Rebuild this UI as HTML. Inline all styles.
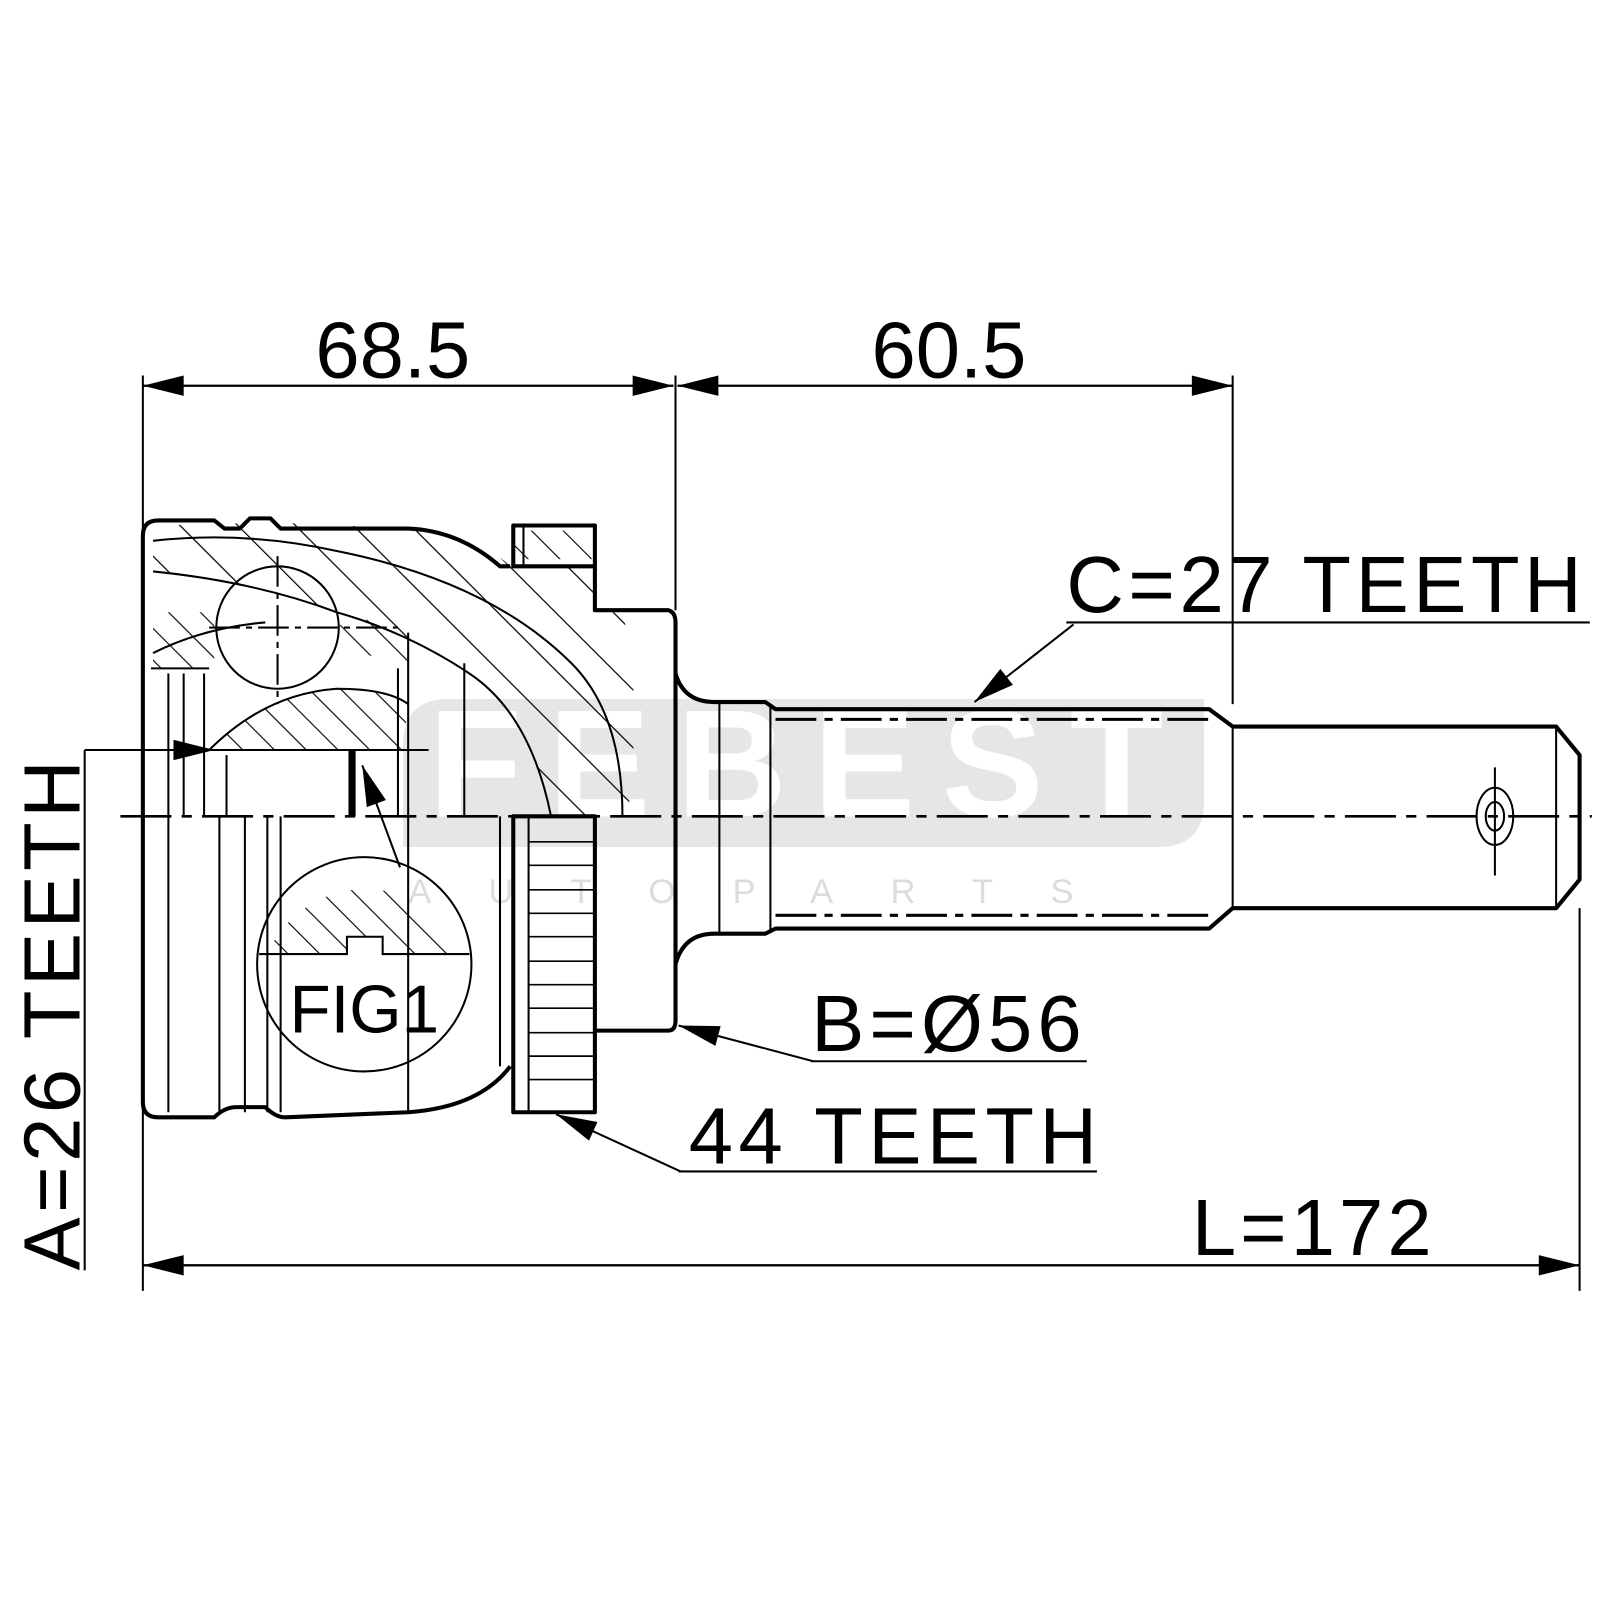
<!DOCTYPE html>
<html><head><meta charset="utf-8"><style>
html,body{margin:0;padding:0;background:#fff;}
svg{display:block;}
text{font-family:"Liberation Sans",sans-serif;fill:#000;}
</style></head><body>
<svg width="1600" height="1600" viewBox="0 0 1568 1568" xmlns="http://www.w3.org/2000/svg">
<defs>
<pattern id="h" patternUnits="userSpaceOnUse" width="22" height="22" patternTransform="rotate(-45)">
<line x1="0" y1="0" x2="0" y2="22" stroke="#000" stroke-width="2.2"/>
</pattern>
<pattern id="h2" patternUnits="userSpaceOnUse" width="40" height="40" patternTransform="rotate(-45)">
<line x1="0" y1="0" x2="0" y2="40" stroke="#000" stroke-width="2.4"/>
</pattern>
<marker id="ar" viewBox="0 0 20 10" refX="20" refY="5" markerWidth="60" markerHeight="20" markerUnits="userSpaceOnUse" orient="auto">
<path d="M0,0 L20,5 L0,10 Z" fill="#000"/>
</marker>
</defs>

<path d="M440,685 H1180 V785 Q1180,830 1135,830 H395 V730 Q395,685 440,685 Z" fill="#e6e6e6"/>
<text x="420" y="800" font-size="150" font-weight="bold" style="fill:#fff" textLength="720">FEBEST</text>
<text x="400" y="885" font-size="34" style="fill:#dcdcdc" letter-spacing="56">AUTOPARTS</text>

<g fill="none" stroke="#000" stroke-width="2">
<line x1="140" y1="368" x2="140" y2="1265"/>
<line x1="662" y1="368" x2="662" y2="598"/>
<line x1="1208" y1="368" x2="1208" y2="690"/>
<line x1="1548" y1="890" x2="1548" y2="1265"/>
<line x1="140" y1="378" x2="660" y2="378" marker-end="url(#ar)"/>
<line x1="660" y1="378" x2="140" y2="378" marker-end="url(#ar)"/>
<line x1="664" y1="378" x2="1208" y2="378" marker-end="url(#ar)"/>
<line x1="1208" y1="378" x2="664" y2="378" marker-end="url(#ar)"/>
<line x1="140" y1="1240" x2="1548" y2="1240" marker-end="url(#ar)"/>
<line x1="1548" y1="1240" x2="140" y2="1240" marker-end="url(#ar)"/>
<line x1="83" y1="735" x2="83" y2="1245"/>
<line x1="83" y1="735" x2="210" y2="735" marker-end="url(#ar)"/>
<line x1="200" y1="735" x2="420" y2="735"/>
<line x1="1045" y1="610" x2="1558" y2="610"/>
<line x1="1052" y1="612" x2="955" y2="688" marker-end="url(#ar)"/>
<line x1="795" y1="1040" x2="1065" y2="1040"/>
<line x1="797" y1="1040" x2="665" y2="1005" marker-end="url(#ar)"/>
<line x1="665" y1="1148" x2="1075" y2="1148"/>
<line x1="667" y1="1148" x2="545" y2="1092" marker-end="url(#ar)"/>
<line x1="392" y1="850" x2="355" y2="750" marker-end="url(#ar)"/>
</g>

<g stroke="none">
<path d="M150,515 L270,512 L400,518 Q470,525 500,555 L583,555 L583,600 L610,600 Q630,680 615,800 L540,800 Q520,700 460,660 Q400,620 330,600 Q250,570 150,560 Z" fill="url(#h2)"/>
<path d="M205,735 Q260,680 330,675 Q380,675 400,690 L395,735 Z" fill="url(#h)"/>
<path d="M335,600 L400,620 L400,650 Q360,640 330,640 Z" fill="url(#h)"/>
<path d="M150,600 L210,600 L210,655 L150,655 Z" fill="url(#h)"/>
<path d="M503,520 H580 V548 H503 Z" fill="url(#h)"/>
</g>

<g fill="none" stroke="#000" stroke-width="4" stroke-linejoin="round">
<path d="M583,555 L583,598 L655,598 Q662,600 662,610 L662,1000 Q662,1010 655,1010 L583,1010"/>
<path d="M500,555 L490,555 Q450,520 400,518 L275,518 L265,508 L245,508 L235,518 L220,518 L210,510 L155,510 Q140,510 140,525 L140,1080 Q140,1095 155,1095 L210,1095 Q220,1085 232,1085 L260,1085 Q270,1095 280,1095 L400,1090 Q470,1085 500,1045"/>
<rect x="503" y="515" width="80" height="40"/>
<rect x="503" y="800" width="80" height="290"/>
<path d="M662,660 Q670,688 700,688 L750,688 L760,695 L1185,695 L1208,712 L1525,712 L1548,740 L1548,862 L1525,890 L1208,890 L1185,910 L760,910 L750,915 L700,915 Q670,915 662,945"/>
</g>

<g fill="none" stroke="#000" stroke-width="2">
<line x1="705" y1="688" x2="705" y2="915"/>
<line x1="755" y1="690" x2="755" y2="913"/>
<line x1="1208" y1="712" x2="1208" y2="890"/>
<line x1="1525" y1="712" x2="1525" y2="890"/>
<line x1="760" y1="705" x2="1185" y2="705" stroke-dasharray="40,8,8,8" stroke-width="3"/>
<line x1="760" y1="897" x2="1185" y2="897" stroke-dasharray="40,8,8,8" stroke-width="3"/>
<ellipse cx="1465" cy="800" rx="18" ry="28"/>
<ellipse cx="1465" cy="800" rx="9" ry="14"/>
<line x1="1465" y1="752" x2="1465" y2="858"/>
<line x1="518" y1="800" x2="518" y2="1090"/>
<g stroke-width="1.6">
<line x1="518" y1="825" x2="583" y2="825"/><line x1="518" y1="848" x2="583" y2="848"/>
<line x1="518" y1="872" x2="583" y2="872"/><line x1="518" y1="895" x2="583" y2="895"/>
<line x1="518" y1="918" x2="583" y2="918"/><line x1="518" y1="942" x2="583" y2="942"/>
<line x1="518" y1="965" x2="583" y2="965"/><line x1="518" y1="988" x2="583" y2="988"/>
<line x1="518" y1="1012" x2="583" y2="1012"/><line x1="518" y1="1035" x2="583" y2="1035"/>
<line x1="518" y1="1058" x2="583" y2="1058"/>
</g>
<line x1="513" y1="515" x2="513" y2="555"/>
<path d="M150,560 Q250,570 330,600 Q400,620 460,660 Q520,700 540,800"/>
<path d="M150,530 Q240,520 330,540 Q480,570 560,650 Q610,700 610,800"/>
<path d="M150,640 Q200,615 260,610"/>
<path d="M205,735 Q260,680 330,675 Q380,675 400,690"/>
<circle cx="272" cy="615" r="60"/>
<line x1="272" y1="545" x2="272" y2="690" stroke-dasharray="30,6,6,6"/>
<line x1="205" y1="615" x2="390" y2="615" stroke-dasharray="30,6,6,6"/>
<line x1="165" y1="660" x2="165" y2="1090"/>
<line x1="180" y1="660" x2="180" y2="800"/>
<line x1="200" y1="660" x2="200" y2="800"/>
<line x1="215" y1="800" x2="215" y2="1090"/>
<line x1="222" y1="740" x2="222" y2="800"/>
<line x1="240" y1="800" x2="240" y2="1090"/>
<line x1="262" y1="800" x2="262" y2="1090"/>
<line x1="275" y1="800" x2="275" y2="1090"/>
<line x1="148" y1="655" x2="205" y2="655"/>
<line x1="400" y1="620" x2="400" y2="1090"/>
<line x1="390" y1="655" x2="390" y2="800"/>
<line x1="455" y1="650" x2="455" y2="800"/>
<line x1="490" y1="800" x2="490" y2="1045"/>
<line x1="345" y1="735" x2="345" y2="800" stroke-width="7"/>
<circle cx="357" cy="945" r="105"/>
</g>
<path d="M262,935 L340,935 L340,918 L375,918 L375,935 L455,935 A105,105 0 0 0 262,935 Z" fill="url(#h)"/>
<path d="M254,935 L340,935 L340,918 L375,918 L375,935 L460,935" fill="none" stroke="#000" stroke-width="2"/>

<line x1="118" y1="800" x2="1560" y2="800" stroke="#000" stroke-width="2.5" stroke-dasharray="50,10,10,10"/>

<text x="385" y="370" font-size="78" text-anchor="middle">68.5</text>
<text x="930" y="370" font-size="78" text-anchor="middle">60.5</text>
<text x="1045" y="600" font-size="78" textLength="505">C=27 TEETH</text>
<text x="795" y="1030" font-size="78" textLength="265">B=Ø56</text>
<text x="675" y="1140" font-size="78" textLength="400">44 TEETH</text>
<text x="1168" y="1230" font-size="78" textLength="235">L=172</text>
<text x="357" y="1012" font-size="66" text-anchor="middle">FIG1</text>
<text transform="translate(78,1245) rotate(-90)" font-size="78" textLength="500">A=26 TEETH</text>
</svg>
</body></html>
